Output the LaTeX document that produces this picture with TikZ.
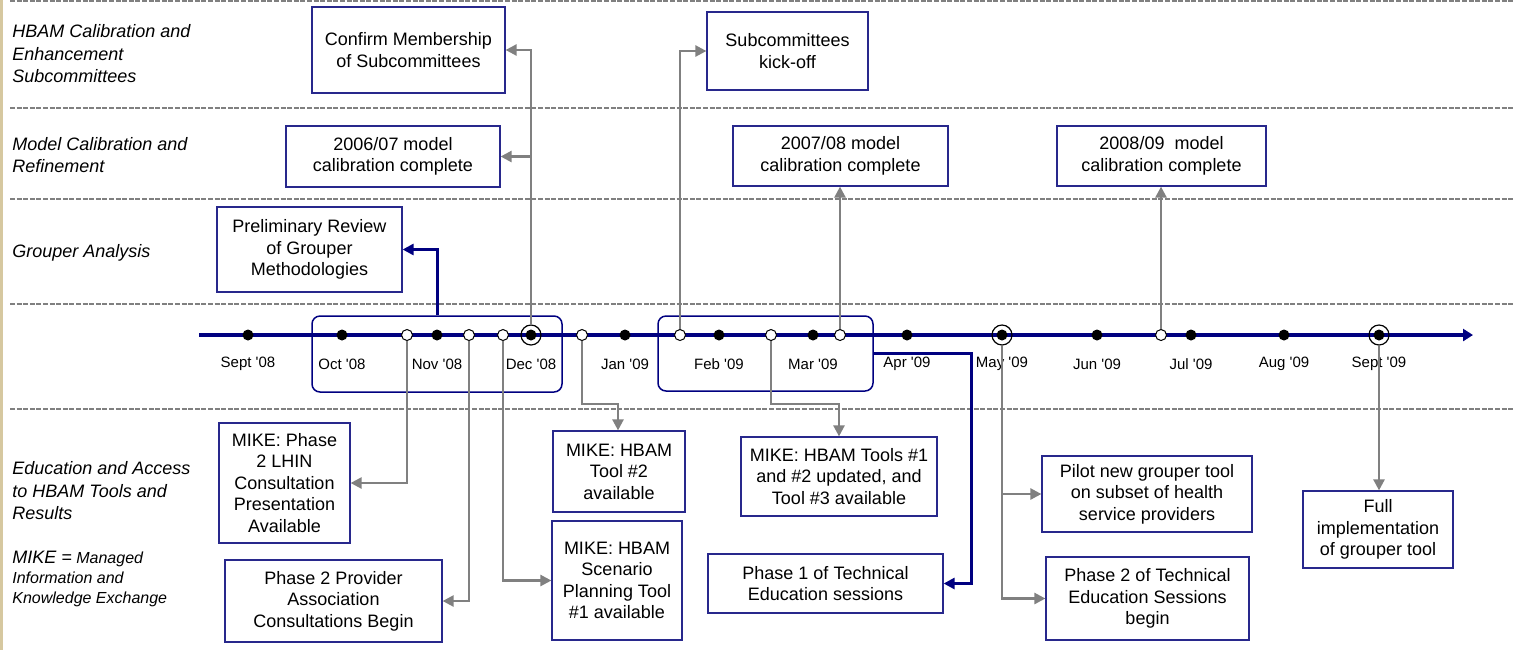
\documentclass[tikz,border=0pt]{standalone}
\usepackage{fontspec}
\setmainfont{Liberation Sans}
\usetikzlibrary{arrows.meta}
\definecolor{navyc}{RGB}{0,0,128}
\definecolor{boxc}{RGB}{40,40,140}
\definecolor{connc}{RGB}{128,128,128}
\definecolor{dashc}{RGB}{128,128,128}
\definecolor{beigec}{RGB}{214,200,160}
\begin{document}
\begin{tikzpicture}[x=0.5pt,y=-0.5pt,
  box/.style={draw=boxc, line width=0.6pt, fill=white, align=center, inner sep=1pt, font=\fontsize{9}{10.75}\selectfont},
  lane/.style={font=\fontsize{9}{11.25}\selectfont\itshape, align=left, anchor=west, inner sep=0pt},
  month/.style={font=\fontsize{7.5}{9}\selectfont, inner sep=0pt},
  gc/.style={draw=connc, line width=1.2pt, -{Triangle[length=5.5pt,width=5.5pt]}},
  nc/.style={draw=navyc, line width=1.5pt, -{Triangle[length=5.5pt,width=5.5pt]}},
  sepline/.style={draw=dashc, line width=1pt, dash pattern=on 2.5pt off 0.8pt},
  dotf/.style={circle, fill=black, minimum size=5.5pt, inner sep=0pt},
  doto/.style={circle, fill=white, draw=black, line width=0.5pt, minimum size=5.5pt, inner sep=0pt},
  ringn/.style={circle, draw=black, line width=0.6pt, minimum size=10pt, inner sep=0pt},
  grp/.style={draw=navyc, line width=0.75pt, rounded corners=4pt, inner sep=0pt}
]
\useasboundingbox (0,0) rectangle (1513,650);
\fill[beigec] (0,0) rectangle (3,650);
% lane separators
\foreach \y in {1,108,199,304,409} \draw[sepline] (10,\y) -- (1513,\y);
% group frames
\node[grp, minimum width=125pt, minimum height=38pt] (rr1) at (437,354) {};
\node[grp, minimum width=107.5pt, minimum height=37.5pt] (rr2) at (765.5,353.5) {};
% timeline
\coordinate (tl0) at (199,335);
\coordinate (tl1) at (1473,335);
\draw[navyc, line width=2pt, -{Triangle[length=5pt,width=6pt]}] (tl0) -- (tl1);
% lane labels
\node[lane] (l1) at (12,54) {HBAM Calibration and\\Enhancement\\Subcommittees};
\node[lane] (l2) at (12,155) {Model Calibration and\\Refinement};
\node[lane] (l3) at (12,253) {Grouper Analysis};
\node[lane] (l4) at (12,491) {Education and Access\\to HBAM Tools and\\Results};
\node[lane, font=\fontsize{8}{10}\selectfont\itshape] (l5) at (12,579) {{\fontsize{9}{10}\selectfont MIKE =} Managed\\Information and\\Knowledge Exchange};
% boxes
\node[box, minimum width=96.5pt, minimum height=43pt] (confirm) at (408.5,50) {Confirm Membership\\of Subcommittees};
\node[box, minimum width=107pt, minimum height=30.5pt] (m0607) at (393,156.5) {2006/07 model\\calibration complete};
\node[box, minimum width=92.5pt, minimum height=42.5pt] (prelim) at (309.5,249.5) {Preliminary Review\\of Grouper\\Methodologies};
\node[box, minimum width=80.5pt, minimum height=39pt] (kickoff) at (787.5,51) {Subcommittees\\kick-off};
\node[box, minimum width=107.5pt, minimum height=30pt] (m0708) at (840.5,156) {2007/08 model\\calibration complete};
\node[box, minimum width=104.5pt, minimum height=30pt] (m0809) at (1161.5,156) {2008/09\ \ model\\calibration complete};
\node[box, minimum width=65.5pt, minimum height=60pt] (mphase2) at (284.5,483) {MIKE: Phase\\2 LHIN\\Consultation\\Presentation\\Available};
\node[box, minimum width=108.5pt, minimum height=41pt] (provider) at (333.5,601) {Phase 2 Provider\\Association\\Consultations Begin};
\node[box, minimum width=66pt, minimum height=40.5pt] (tool2) at (619,471.5) {MIKE: HBAM\\Tool \#2\\available};
\node[box, minimum width=65pt, minimum height=59.5pt] (scenario) at (617,580.5) {MIKE: HBAM\\Scenario\\Planning Tool\\\#1 available};
\node[box, minimum width=98pt, minimum height=39.5pt] (tools13) at (839,476.5) {MIKE: HBAM Tools \#1\\and \#2 updated, and\\Tool \#3 available};
\node[box, minimum width=117.5pt, minimum height=29.5pt] (phase1) at (825.5,583.5) {Phase 1 of Technical\\Education sessions};
\node[box, minimum width=105pt, minimum height=38pt] (pilot) at (1147,494) {Pilot new grouper tool\\on subset of health\\service providers};
\node[box, minimum width=101.5pt, minimum height=41.5pt] (phase2tech) at (1147.5,598.5) {Phase 2 of Technical\\Education Sessions\\begin};
\node[box, minimum width=75pt, minimum height=38.5pt] (full) at (1378,529.5) {Full\\implementation\\of grouper tool};
% months
\foreach \x/\l [count=\i] in {248/Sept,342/Oct,437/Nov,531/Dec}{
  \node[dotf] (m\i) at (\x,335) {};
  \node[month] (ml\i) at (\x,364) {\l\ \textquotesingle08};
}
\foreach \x/\l [count=\i from 5] in {625/Jan,719/Feb,813/Mar,907/Apr,1002/May,1097/Jun,1191/Jul,1284/Aug,1379/Sept}{
  \node[dotf] (m\i) at (\x,335) {};
  \node[month] (ml\i) at (\x,364) {\l\ \textquotesingle09};
}
\node[ringn] (decR) at (531,335) {};
\node[ringn] (mayR) at (1002,335) {};
\node[ringn] (sepR) at (1379,335) {};
% open milestones
\foreach \x [count=\i] in {407,469,503,582,680,771,840,1161}{
  \node[doto] (o\i) at (\x,335) {};
}
% connectors
\draw[gc] (decR.north) |- (confirm.east);
\draw[gc] (decR.north) |- (m0607.east);
\draw[gc] (o5.north) |- (kickoff.west);
\draw[gc] (o7.north) -- (o7.north |- m0708.south);
\draw[gc] (o8.north) -- (o8.north |- m0809.south);
\draw[nc] (rr1.north -| m3) |- (prelim.east);
\draw[gc] (o1.south) |- (mphase2.east);
\draw[gc] (o2.south) |- (provider.east);
\draw[gc] (o3.south) |- (scenario.west);
\coordinate (k1) at (618,404);
\draw[gc] (o4.south) |- (k1) -- (k1 |- tool2.north);
\coordinate (k2) at (839,404);
\draw[gc] (o6.south) |- (k2) -- (k2 |- tools13.north);
\coordinate (k4) at (971,583.5);
\draw[nc] (rr2.east) -| (k4) -- (phase1.east);
\draw[gc] (mayR.south) |- (pilot.west);
\draw[gc] (mayR.south) |- (phase2tech.west);
\draw[gc] (sepR.south) -- (sepR.south |- full.north);
\end{tikzpicture}
\end{document}
